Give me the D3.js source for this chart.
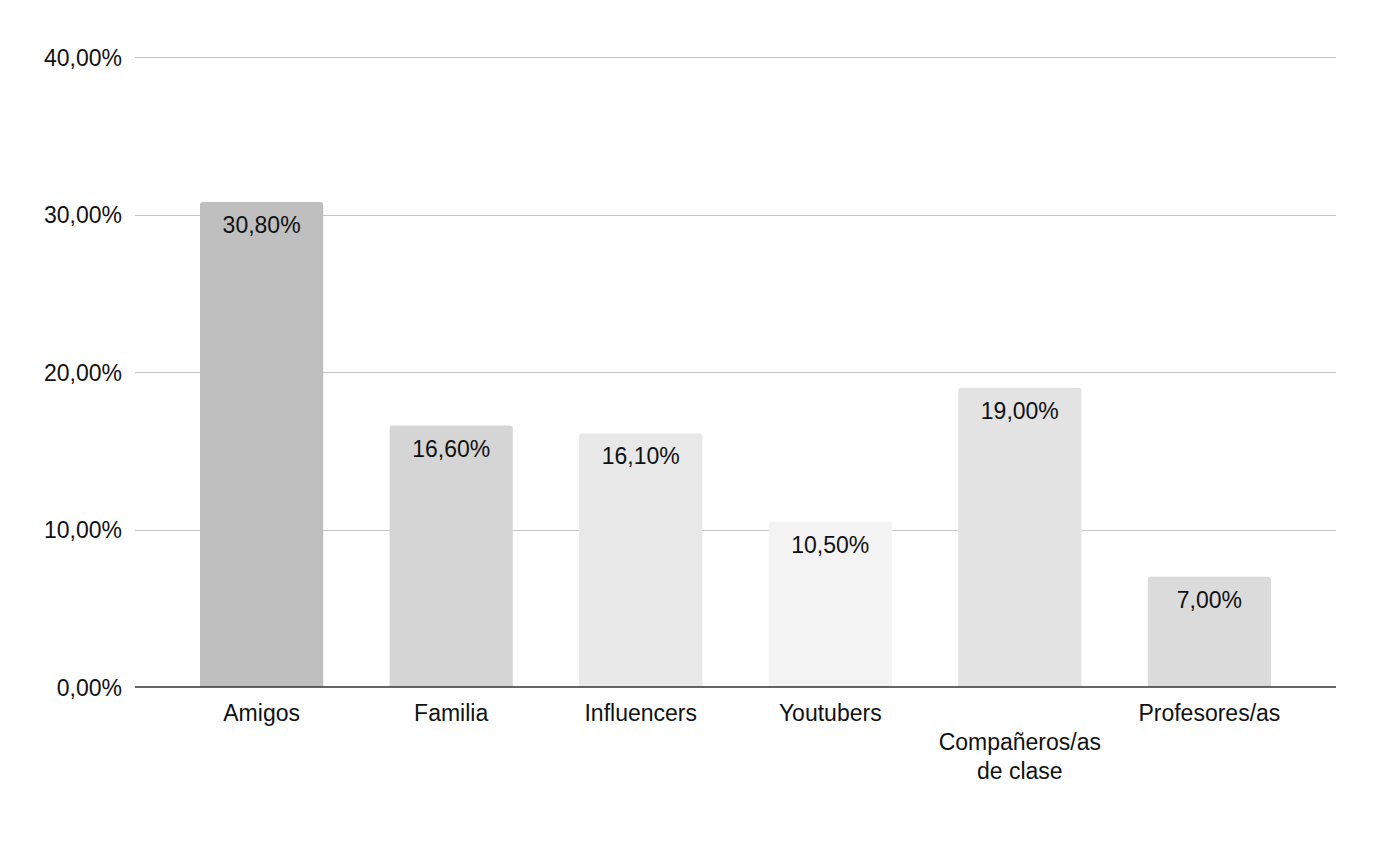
<!DOCTYPE html>
<html><head><meta charset="utf-8">
<script src="https://cdn.jsdelivr.net/npm/d3@7"></script>
<style>body{margin:0;background:#fff}svg{display:block}text{font-family:"Liberation Sans",Arial,sans-serif}</style>
</head><body>
<svg id="c" width="1380" height="854"></svg>
<script>
const categories = ["Amigos","Familia","Influencers","Youtubers","Compañeros/as de clase","Profesores/as"];
const values = [30.8,16.6,16.1,10.5,19.0,7.0];
const barColors = ["#bfbfbf","#d5d5d5","#e8e8e8","#f3f3f3","#e3e3e3","#dbdbdb"];
const yTicks = [0,10,20,30,40];
const categoryLines = [["Amigos"],["Familia"],["Influencers"],["Youtubers"],["","Compañeros/as","de clase"],["Profesores/as"]];

(function(){
const fmt = v => v.toFixed(2).replace(".", ",") + "%";
const svg = d3.select("#c");
const pLeft = 135, pRight = 1336, pTop = 57, pBottom = 687;
const fs = 23;
const x = d3.scaleBand().domain(categories).range([pLeft,pRight]).paddingInner(0.35).paddingOuter(0.343);
const y = d3.scaleLinear().domain([0,40]).range([pBottom,pTop]);

// grid
svg.append("g").selectAll("line").data(yTicks.filter(t=>t>0)).join("line")
  .attr("x1",pLeft).attr("x2",pRight).attr("y1",d=>Math.round(y(d))+0.5).attr("y2",d=>Math.round(y(d))+0.5)
  .attr("stroke","#c6c6c6").attr("stroke-width",1.2);
// y labels
svg.append("g").selectAll("text").data(yTicks).join("text")
  .attr("x",122).attr("y",d=>y(d)+8.5).attr("text-anchor","end")
  .attr("font-size",fs).attr("fill","#111").text(fmt);

// bars with rounded top corners
const r = 3;
svg.append("g").selectAll("path").data(values).join("path")
  .attr("fill",(d,i)=>barColors[i])
  .attr("d",(d,i)=>{
    const x0 = x(categories[i]), w = x.bandwidth(), y0 = y(d), y1 = y(0);
    return `M${x0},${y1}V${y0+r}Q${x0},${y0} ${x0+r},${y0}H${x0+w-r}Q${x0+w},${y0} ${x0+w},${y0+r}V${y1}Z`;
  });

// baseline
svg.append("line").attr("x1",pLeft).attr("x2",pRight).attr("y1",y(0)).attr("y2",y(0))
  .attr("stroke","#333").attr("stroke-width",1.6);

// value labels
svg.append("g").selectAll("text").data(values).join("text")
  .attr("x",(d,i)=>x(categories[i])+x.bandwidth()/2).attr("y",d=>y(d)+31)
  .attr("text-anchor","middle").attr("font-size",fs).attr("fill","#111").text(fmt);

// category labels
const cg = svg.append("g");
categories.forEach((c,i)=>{
  categoryLines[i].forEach((ln,j)=>{
    cg.append("text").attr("x",x(c)+x.bandwidth()/2).attr("y",721+j*29)
      .attr("text-anchor","middle").attr("font-size",fs).attr("fill","#111").text(ln);
  });
});
})();
</script>
</body></html>
